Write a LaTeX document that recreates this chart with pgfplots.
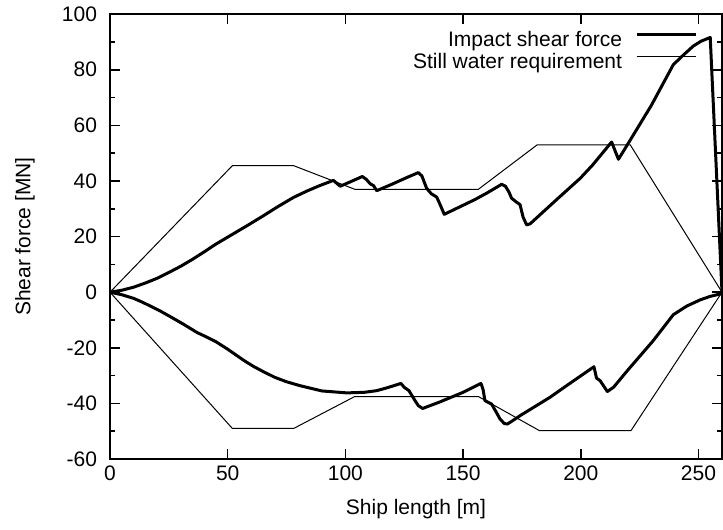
\documentclass[border=0pt]{standalone}
\usepackage{fontspec}
\setmainfont{Liberation Sans}
\usepackage{pgfplots}
\pgfplotsset{compat=1.18}

\begin{document}
\begin{tikzpicture}[font=\fontsize{10.5bp}{12bp}\selectfont]
\begin{axis}[
    scale only axis,
    width=306bp, height=222.5bp,
    xmin=0, xmax=260, ymin=-60, ymax=100,
    xtick={0,50,100,150,200,250},
    xticklabels={0,50,100,150,200,250},
    ytick={-60,-40,-20,0,20,40,60,80,100},
    yticklabels={-60,-40,-20,0,20,40,60,80,100},
    minor y tick num=1,
    major tick length=5bp, minor tick length=2.5bp,
    tick style={line width=0.8bp, black},
    axis line style={line width=1bp},
    yticklabel style={xshift=-3bp},
    xlabel={Ship length [m]},
    ylabel={Shear force [MN]},
    x label style={at={(axis description cs:0.5,-0.1124)}, anchor=center},
    y label style={at={(axis description cs:-0.139,0.5)}, anchor=center},
    legend plot pos=right,
    legend cell align=right,
    legend style={draw=none, fill=none, inner sep=0pt, outer sep=0pt,
        at={(axis description cs:1,1)}, anchor=north east,
        xshift=-12.5bp, yshift=-8.5bp,
        row sep=1.5bp,
        nodes={inner sep=0pt, text height=7.5bp, text depth=2bp},
        /tikz/every odd column/.append style={column sep=6.5bp}},
    legend image code/.code={\draw[#1] (0bp,3.2bp) -- (29.5bp,3.2bp);},
]
% impact shear force: upper branch then lower branch back to the bow
\addplot[black, line width=1.5bp, line join=round] coordinates {
(0,0) (5,0.7) (10,1.8) (15,3.3) (20,5) (25,7.1) (30,9.3) (35,11.8) (40,14.5)
(45,17.3) (51,20.3) (58,23.8) (65,27.4) (71,30.6) (78,34.1) (84,36.5)
(89,38.3) (94.9,40.2) (97.8,38.1) (100,38.9) (107.2,41.6) (109,40.5)
(110.5,39) (112,38.3) (113.3,36.5) (120,38.9) (126,41.2) (131,43)
(132.5,41.8) (134.5,37.4) (136.5,35.4) (138.8,34.2) (140.5,31) (142,28)
(155,33.3) (160,35.6) (166.4,38.8) (168,38.1) (169.5,36) (170.6,33.8)
(172.5,32.5) (174.2,31.5) (175.5,27) (177,24.2) (178.5,24.6) (190,33.5)
(199.7,40.9) (205,45.7) (213.1,54) (216,47.8) (219.5,52.6) (230,67.2)
(239.3,81.8) (243.5,85.2) (247.8,88.5) (251,90.2) (255,91.6) (260,0)
(259.8,-0.5) (255,-1.5) (250.6,-2.8) (245,-5) (239.3,-8.1) (230.8,-17.4)
(220,-28) (213.9,-34.2) (211.3,-35.7) (208.2,-31.8) (206.7,-30.9)
(205.6,-26.8) (195,-33) (186.9,-37.8) (174.2,-44.4) (170.5,-46.5)
(168.8,-47.4) (167.5,-47.2) (165.7,-45.6) (164,-43) (162.1,-40.2)
(159.3,-39) (158.5,-35) (157.6,-32.8) (150,-36) (140,-39.5) (132.8,-41.8)
(131,-40.8) (129.6,-39) (127,-35.4) (125,-34.2) (123.6,-32.8) (118,-34.3)
(113.3,-35.4) (108,-36) (100.6,-36.2) (90,-35.5) (80.7,-33.6) (75,-32.2)
(70,-30.6) (65,-28.5) (61,-26.7) (57,-24.6) (50,-20.5) (45,-17.8) (41,-16.1)
(37,-14.5) (31,-11.4) (25,-8.5) (21,-6.6) (17,-4.9) (13,-3.3) (10,-2.2)
(5,-0.9) (0,0)
};
\addlegendentry{Impact shear force}
% still water requirement envelope
\addplot[black, line width=0.5bp] coordinates {
(0,0) (52,45.5) (78,45.5) (104,37) (156.5,37) (181.5,53) (221,53) (260,0)
(221.3,-49.8) (182.5,-49.8) (156.5,-37.5) (104,-37.5) (78,-49) (52,-49) (0,0)
};
\addlegendentry{Still water requirement}
\end{axis}
\path[use as bounding box] (current axis.south west) ++(-55bp,-35.35bp)
    rectangle ([shift={(0.5bp,6.75bp)}]current axis.north east);
\end{tikzpicture}
\end{document}
